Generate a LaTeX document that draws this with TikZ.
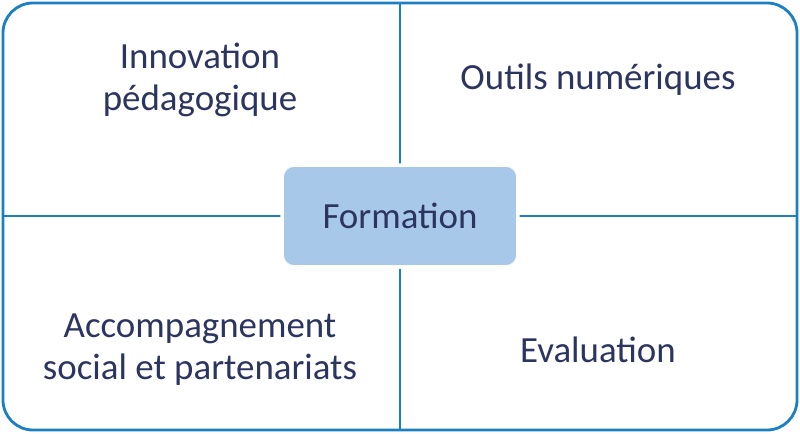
\documentclass[tikz,border=0pt]{standalone}
\usepackage{fontspec}
\setmainfont{Carlito}
\usetikzlibrary{positioning}
\definecolor{frameblue}{HTML}{1B80C3}
\definecolor{boxblue}{HTML}{A8C8EA}
\definecolor{textnavy}{HTML}{2B3560}
\tikzset{quad/.style={text=textnavy,align=center,font=\fontsize{21}{24}\selectfont},
    hub/.style={quad,fill=boxblue,draw=white,line width=2pt,rounded corners=0.24cm,minimum width=4.72cm,minimum height=2.04cm}}
\begin{document}
\begin{tikzpicture}[x=0.02cm,y=-0.02cm]
    \useasboundingbox (0,0) rectangle (800,433);
    \draw[frameblue,line width=1.6pt,rounded corners=0.6cm] (3,3) rectangle (797,430);
    \coordinate (top) at (400,3);
    \coordinate (bottom) at (400,430);
    \coordinate (left) at (3,216);
    \coordinate (right) at (797,216);
    \draw[frameblue,line width=1.6pt] (top) -- (bottom) (left) -- (right);
    \node[hub] (formation) at (400,216) {Formation};
    \node[quad] (innov) at (200,80) {Innovation\\pédagogique};
    \node[quad] (outils) at (598,80) {Outils numériques};
    \node[quad] (accomp) at (200,350) {Accompagnement\\social et partenariats};
    \node[quad] (eval) at (598,350) {Evaluation};
\end{tikzpicture}
\end{document}
